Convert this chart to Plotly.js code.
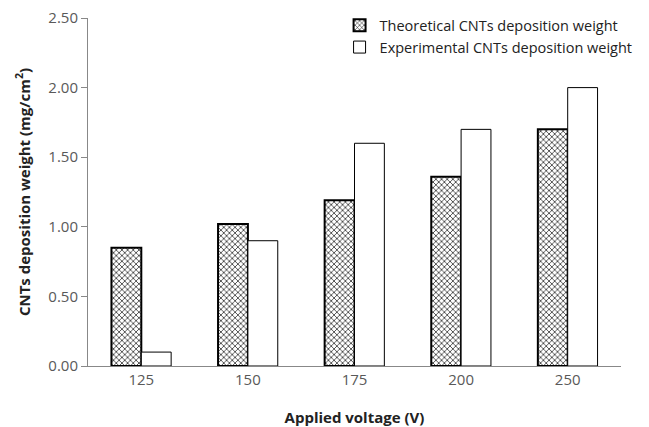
<!DOCTYPE html>
<html><head><meta charset="utf-8">
<script src="https://cdn.plot.ly/plotly-3.0.1.min.js"></script>
<style>body{margin:0;background:#fff}#c{width:649px;height:427px}</style>
</head><body><div id="c"></div>
<script>
var categories = ['125', '150', '175', '200', '250'];
var theoretical = [0.85, 1.02, 1.19, 1.36, 1.70];
var experimental = [0.10, 0.90, 1.60, 1.70, 2.00];
var seriesNames = ['Theoretical CNTs deposition weight', 'Experimental CNTs deposition weight'];
var yTicks = [0, 0.5, 1.0, 1.5, 2.0, 2.5];

var data = [
  {type:'bar', x:categories, y:theoretical, name:seriesNames[0],
   marker:{color:'#ffffff', line:{color:'#000', width:2},
     pattern:{shape:'x', fgcolor:'#000', bgcolor:'#fff', size:4, solidity:0.3}}},
  {type:'bar', x:categories, y:experimental, name:seriesNames[1],
   marker:{color:'#ffffff', line:{color:'#000', width:1}}}
];
var font = {family:'"Open Sans", "Liberation Sans", sans-serif', color:'#595959', size:14};
var layout = {
  width:649, height:427,
  margin:{l:88, r:28, t:18, b:61, autoexpand:false},
  paper_bgcolor:'#fff', plot_bgcolor:'#fff',
  font:font,
  barmode:'group', bargap:0.44, bargroupgap:0,
  showlegend:true,
  legend:{x:0.472, y:1.025, xanchor:'left', yanchor:'top', bgcolor:'rgba(0,0,0,0)',
    font:{family:font.family, size:14.5, color:'#222'}, tracegroupgap:0, itemwidth:30},
  xaxis:{type:'category', showline:true, linecolor:'#888', linewidth:1, ticks:'', showgrid:false,
    tickfont:{size:15, color:'#595959'},
    title:{text:'<b>Applied voltage (V)</b>', font:{size:15, color:'#222'}, standoff:25}},
  yaxis:{range:[0, 2.5], tickvals:yTicks, tickformat:'.2f', showline:true, linecolor:'#888', linewidth:1,
    ticks:'outside', ticklen:6, tickcolor:'#888', showgrid:false, zeroline:false,
    tickfont:{size:15, color:'#595959'},
    title:{text:'<b>CNTs deposition weight (mg/cm<sup>2</sup>)</b>', font:{size:15, color:'#222'}, standoff:14}}
};
Plotly.newPlot('c', data, layout, {displayModeBar:false, staticPlot:true});
</script></body></html>
